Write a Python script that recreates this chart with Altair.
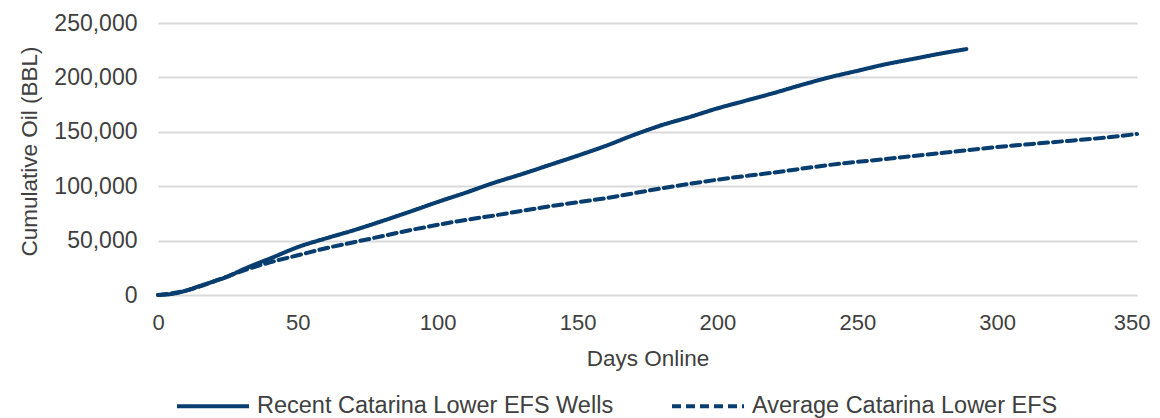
import altair as alt
import pandas as pd

series_names = ["Recent Catarina Lower EFS Wells", "Average Catarina Lower EFS"]

recent_days = [0, 5, 10, 15, 20, 25, 30, 35, 40, 50, 60, 70, 80, 90, 100, 110, 120, 130,
               140, 150, 160, 170, 180, 190, 200, 210, 220, 230, 240, 250, 260, 270, 280, 289]
recent_oil = [0, 1000, 4000, 8300, 12500, 17000, 23000, 28500, 33500, 44000, 52000, 59500,
              67800, 76500, 85500, 94000, 103000, 111000, 119500, 128000, 137000, 147000,
              156000, 163500, 171500, 178500, 185500, 193000, 200000, 206000, 212000, 217000,
              222000, 226000]

avg_days = [0, 10, 20, 30, 40, 50, 60, 70, 80, 90, 100, 110, 120, 140, 160, 180, 200, 220,
            240, 260, 280, 300, 320, 340, 350]
avg_oil = [0, 4000, 12500, 22000, 30000, 36500, 43000, 48500, 54000, 59500, 64500, 69000,
           73000, 81500, 89000, 98000, 106000, 112500, 119500, 125000, 130500, 136000,
           140500, 145000, 148000]

x_ticks = [0, 50, 100, 150, 200, 250, 300, 350]
y_ticks = [0, 50000, 100000, 150000, 200000, 250000]

rows = []
for d, v in zip(recent_days, recent_oil):
    rows.append({"day": d, "oil": v, "series": series_names[0]})
for d, v in zip(avg_days, avg_oil):
    rows.append({"day": d, "oil": v, "series": series_names[1]})
df = pd.DataFrame(rows)

NAVY = "#073D6F"
TEXT = "#404040"
FONT = "Liberation Sans"

axis_style = dict(labelFont=FONT, titleFont=FONT, titleFontSize=22.5,
                  labelColor=TEXT, titleColor=TEXT, titleFontWeight="normal",
                  domain=False, ticks=False)

last_x = "datum.value == %d" % x_ticks[-1]

chart = alt.Chart(df).mark_line(strokeWidth=4, strokeCap="round", strokeJoin="round",
                                color=NAVY, interpolate="monotone").encode(
    x=alt.X("day:Q",
            scale=alt.Scale(domain=[0, 350], nice=False),
            axis=alt.Axis(values=x_ticks, title="Days Online", grid=False,
                          labelFontSize=22, labelPadding=17, titlePadding=14,
                          labelFlush=False,
                          labelAlign={"condition": {"test": last_x, "value": "right"},
                                      "value": "center"},
                          labelOffset={"condition": {"test": last_x, "value": 13},
                                       "value": 0},
                          **axis_style)),
    y=alt.Y("oil:Q",
            scale=alt.Scale(domain=[0, 250000], nice=False),
            axis=alt.Axis(values=y_ticks, format=",.0f", title="Cumulative Oil (BBL)",
                          grid=True, gridColor="#D9D9D9", gridWidth=2,
                          labelFontSize=23, labelPadding=21,
                          titleX=-129, titleY=128, titleBaseline="middle",
                          **axis_style)),
    strokeDash=alt.StrokeDash("series:N",
                              scale=alt.Scale(domain=series_names, range=[[1, 0], [9, 5]]),
                              sort=series_names,
                              legend=alt.Legend(title=None, orient="none", direction="horizontal",
                                                legendX=17, legendY=345,
                                                symbolType="stroke", symbolSize=5184,
                                                symbolStrokeWidth=4, symbolStrokeColor=NAVY,
                                                labelOffset=6, columnPadding=50,
                                                labelFontSize=23.5, labelFont=FONT,
                                                labelColor=TEXT, labelLimit=600, padding=0)),
    order=alt.Order("day:Q"),
).properties(
    width=979, height=272,
    autosize=alt.AutoSizeParams(type="none"),
    padding={"left": 150, "top": 15, "right": 15, "bottom": 130},
).configure_view(stroke=None)

chart.save("out.html", embed_options={"renderer": "svg", "actions": False})
